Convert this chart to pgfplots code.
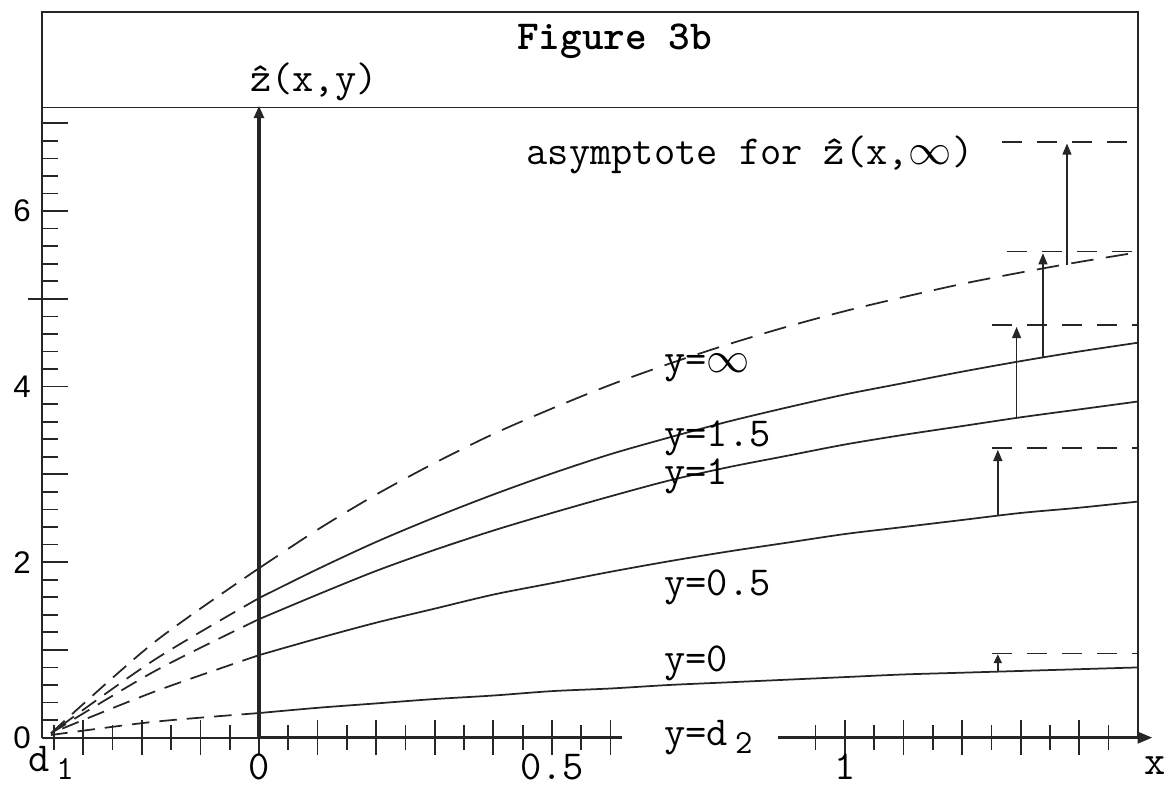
\documentclass[border=0pt]{standalone}
\usepackage{fontspec}
\usepackage{pgfplots}
\pgfplotsset{compat=1.18}
\usetikzlibrary{arrows.meta}
\newfontfamily\numfont{Liberation Sans}
\newcommand\tw{\ttfamily\fontsize{16.5}{19}\selectfont}
\newcommand\sub[1]{\,\raisebox{-3pt}{\fontsize{13.5}{15}\selectfont #1}}

\begin{document}
\begin{tikzpicture}
\begin{axis}[
  scale only axis, width=438.4pt, height=290.4pt,
  xmin=-0.37, xmax=1.5, ymin=0, ymax=8.27,
  clip=false,
  axis line style={draw=none},
  tick style={black!85, line width=0.7pt},
  ytick={0,1,...,7}, yticklabels={0,,2,,4,,6,},
  minor y tick num=4,
  ytick pos=left, ytick align=inside,
  ytick style={/pgfplots/major tick length=10.4pt, /pgfplots/minor tick length=6.4pt},
  yticklabel style={font=\numfont\fontsize{12.5}{14}\selectfont, xshift=-1pt},
  xtick={-0.3,-0.2,-0.1,0,0.1,0.2,0.3,0.4,0.5,0.6,1.0,1.1,1.2,1.3,1.4},
  minor xtick={-0.35,-0.25,-0.15,-0.05,0.05,0.15,0.25,0.35,0.45,0.55,0.95,1.05,1.15,1.25,1.35,1.45},
  xticklabels={,,,,,,,,,,,,,,,},
  xtick pos=bottom, xtick align=center,
  xtick style={/pgfplots/major tick length=14pt, /pgfplots/minor tick length=10pt},
]
% frame, title band
\addplot[black!85, line width=0.9pt] coordinates {(-0.37,0)(-0.37,8.27)(1.5,8.27)(1.5,0)};
\addplot[black!85, line width=0.7pt] coordinates {(-0.37,7.18)(1.5,7.18)};
% extra tick at 5 crossing the left frame
\addplot[black!85, line width=0.7pt] coordinates {(-0.394,5)(-0.326,5)};

% x axis (broken for the d2 label) and z axis
\addplot[black!85, line width=0.7pt] coordinates {(-0.37,0)(0,0)};
\addplot[black!85, line width=1.3pt] coordinates {(0,0)(0.62,0)};
\addplot[black!85, line width=1.3pt, -{Triangle[length=6pt,width=4.5pt]}] coordinates {(0.885,0)(1.525,0)};
\addplot[black!85, line width=1.4pt, -{Triangle[length=5pt,width=4pt]}] coordinates {(0,0)(0,7.2)};

% y = infinity (dashed)
\addplot[black!85, line width=0.7pt, dash pattern=on 9pt off 5pt, smooth] coordinates {
(0,1.93)(0.1,2.37)(0.2,2.77)(0.3,3.13)(0.4,3.46)(0.5,3.75)(0.6,4.02)(0.7,4.26)
(0.8,4.48)(0.9,4.68)(1.0,4.86)(1.1,5.02)(1.2,5.17)(1.3,5.30)(1.4,5.42)(1.5,5.53)};
% y = 1.5
\addplot[black!85, line width=0.7pt, smooth] coordinates {
(0,1.59)(0.1,1.92)(0.2,2.23)(0.3,2.51)(0.4,2.77)(0.5,3.01)(0.6,3.23)(0.7,3.42)
(0.8,3.60)(0.9,3.76)(1.0,3.91)(1.1,4.04)(1.2,4.17)(1.3,4.29)(1.4,4.40)(1.5,4.50)};
% y = 1
\addplot[black!85, line width=0.7pt, smooth] coordinates {
(0,1.35)(0.1,1.63)(0.2,1.90)(0.3,2.14)(0.4,2.36)(0.5,2.56)(0.6,2.75)(0.7,2.93)
(0.8,3.08)(0.9,3.21)(1.0,3.34)(1.1,3.45)(1.2,3.55)(1.3,3.65)(1.4,3.74)(1.5,3.83)};
% y = 0.5
\addplot[black!85, line width=0.7pt, smooth] coordinates {
(0,0.94)(0.1,1.13)(0.2,1.31)(0.3,1.47)(0.4,1.63)(0.5,1.76)(0.6,1.89)(0.7,2.01)
(0.8,2.12)(0.9,2.22)(1.0,2.32)(1.1,2.40)(1.2,2.48)(1.3,2.56)(1.4,2.62)(1.5,2.69)};
% y = 0
\addplot[black!85, line width=0.7pt, smooth] coordinates {
(0,0.28)(0.1,0.34)(0.2,0.39)(0.3,0.44)(0.4,0.48)(0.5,0.53)(0.6,0.56)(0.7,0.60)
(0.8,0.63)(0.9,0.66)(1.0,0.69)(1.1,0.72)(1.2,0.74)(1.3,0.76)(1.4,0.78)(1.5,0.80)};

% continuations towards d1
\addplot[black!85, line width=0.7pt, dash pattern=on 7pt off 4pt, smooth] coordinates {(0,1.93)(-0.18,1.08)(-0.355,0.05)};
\addplot[black!85, line width=0.7pt, dash pattern=on 7pt off 4pt, smooth] coordinates {(0,1.59)(-0.18,0.88)(-0.355,0.05)};
\addplot[black!85, line width=0.7pt, dash pattern=on 7pt off 4pt, smooth] coordinates {(0,1.35)(-0.18,0.75)(-0.355,0.05)};
\addplot[black!85, line width=0.7pt, dash pattern=on 7pt off 4pt, smooth] coordinates {(0,0.94)(-0.18,0.52)(-0.355,0.05)};
\addplot[black!85, line width=0.7pt, dash pattern=on 7pt off 4pt, smooth] coordinates {(0,0.28)(-0.18,0.18)(-0.355,0.03)};

% asymptotes
\addplot[black!85, line width=0.7pt, dash pattern=on 8pt off 6pt] coordinates {(1.268,6.79)(1.5,6.79)};
\addplot[black!85, line width=0.7pt, dash pattern=on 8pt off 6pt] coordinates {(1.276,5.54)(1.5,5.54)};
\addplot[black!85, line width=0.7pt, dash pattern=on 8pt off 6pt] coordinates {(1.251,4.70)(1.5,4.70)};
\addplot[black!85, line width=0.7pt, dash pattern=on 8pt off 6pt] coordinates {(1.251,3.30)(1.5,3.30)};
\addplot[black!85, line width=0.7pt, dash pattern=on 8pt off 6pt] coordinates {(1.251,0.96)(1.5,0.96)};
% arrows from each curve to its asymptote
\addplot[black!85, line width=0.6pt, -{Triangle[length=4.5pt,width=3.6pt]}] coordinates {(1.379,5.39)(1.379,6.77)};
\addplot[black!85, line width=0.6pt, -{Triangle[length=4.5pt,width=3.6pt]}] coordinates {(1.338,4.34)(1.338,5.52)};
\addplot[black!85, line width=0.6pt, -{Triangle[length=4.5pt,width=3.6pt]}] coordinates {(1.293,3.64)(1.293,4.68)};
\addplot[black!85, line width=0.6pt, -{Triangle[length=4.5pt,width=3.6pt]}] coordinates {(1.261,2.53)(1.261,3.28)};
\addplot[black!85, line width=0.6pt, -{Triangle[length=3.5pt,width=3.2pt]}] coordinates {(1.261,0.75)(1.261,0.95)};

% text
\node[font=\tw\bfseries] at (axis cs:0.607,7.93) {Figure 3b};
\node[font=\tw, anchor=west] at (axis cs:-0.03,7.47) {\^{z}(x,y)};
\node[font=\tw] at (axis cs:0.838,6.64) {asymptote for \^{z}(x,$\infty$)};
\node[font=\tw, anchor=west] at (axis cs:0.677,4.21) {y=$\infty$};
\node[font=\tw, anchor=west] at (axis cs:0.677,3.41) {y=1.5};
\node[font=\tw, anchor=west] at (axis cs:0.677,2.98) {y=1};
\node[font=\tw, anchor=west] at (axis cs:0.677,1.71) {y=0.5};
\node[font=\tw, anchor=west] at (axis cs:0.677,0.85) {y=0};
\node[font=\tw, anchor=west] at (axis cs:0.677,0.0) {y=d\sub{2}};
\node[font=\tw, inner sep=0pt] at (axis cs:-0.355,-0.29) {d\sub{1}};
\node[font=\tw, inner sep=0pt] at (axis cs:0,-0.33) {0};
\node[font=\tw, inner sep=0pt] at (axis cs:0.5,-0.33) {0.5};
\node[font=\tw, inner sep=0pt] at (axis cs:1,-0.33) {1};
\node[font=\tw, inner sep=0pt] at (axis cs:1.529,-0.32) {x};

\coordinate (bbsw) at (axis cs:-0.442,-0.558);
\coordinate (bbne) at (axis cs:1.548,8.405);
\end{axis}
\pgfresetboundingbox
\useasboundingbox (bbsw) rectangle (bbne);
\end{tikzpicture}
\end{document}
